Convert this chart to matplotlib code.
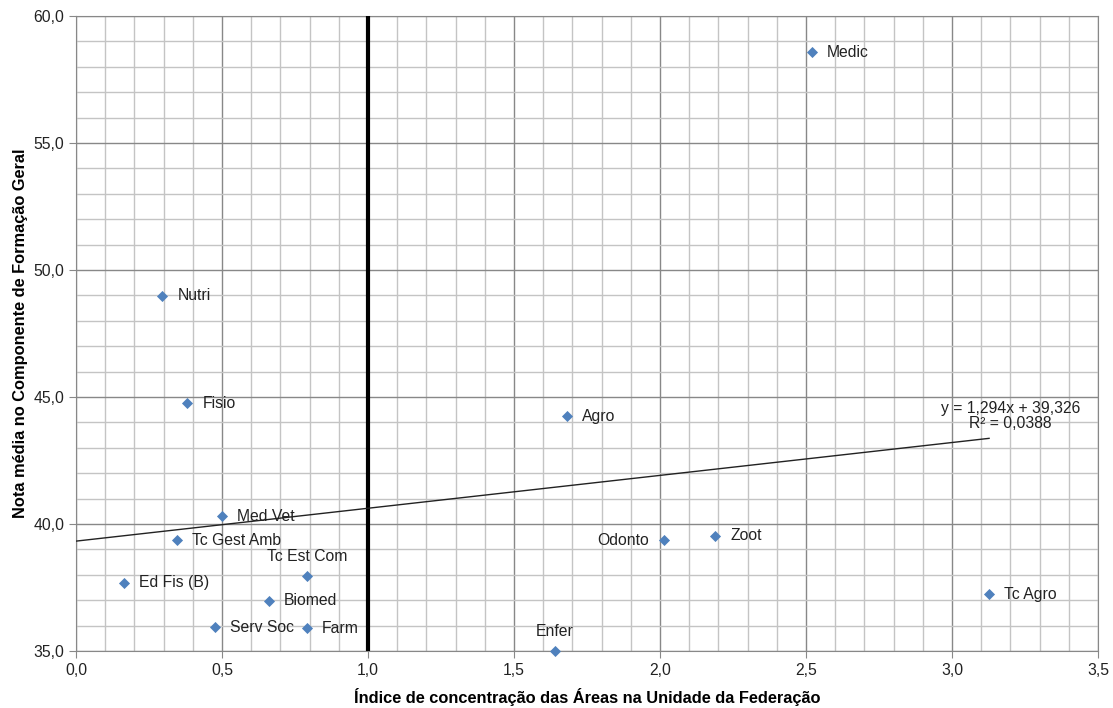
import matplotlib
matplotlib.use("Agg")
import matplotlib.pyplot as plt
import numpy as np
from matplotlib.ticker import MultipleLocator, FuncFormatter

plt.rcParams['font.family'] = ['Liberation Sans', 'DejaVu Sans']

labels = ["Medic", "Nutri", "Fisio", "Agro", "Med Vet", "Tc Gest Amb", "Odonto", "Zoot",
          "Tc Est Com", "Ed Fis (B)", "Biomed", "Serv Soc", "Farm", "Enfer", "Tc Agro"]
x_vals = [2.52, 0.295, 0.38, 1.68, 0.50, 0.346, 2.014, 2.19,
          0.79, 0.164, 0.66, 0.476, 0.79, 1.64, 3.127]
y_vals = [58.58, 48.98, 44.76, 44.25, 40.31, 39.37, 39.37, 39.53,
          37.95, 37.68, 36.97, 35.94, 35.9, 35.0, 37.24]
# label placement: 'r' right, 'l' left, 't' top
placement = ["r", "r", "r", "r", "r", "r", "l", "r", "t", "r", "r", "r", "r", "t", "r"]

slope, intercept = 1.294, 39.326

FS = 11.3

fig = plt.figure(figsize=(11.13, 7.08), dpi=100)
ax = fig.add_axes([0.0683, 0.0805, 0.9182, 0.8969])

ax.set_xlim(0, 3.5)
ax.set_ylim(35, 60)
ax.xaxis.set_major_locator(MultipleLocator(0.5))
ax.xaxis.set_minor_locator(MultipleLocator(0.1))
ax.yaxis.set_major_locator(MultipleLocator(5))
ax.yaxis.set_minor_locator(MultipleLocator(1))
fmt = FuncFormatter(lambda v, p: f"{v:.1f}".replace(".", ","))
ax.xaxis.set_major_formatter(fmt)
ax.yaxis.set_major_formatter(fmt)
ax.grid(which='minor', color='#c4c4c4', linewidth=1.0)
ax.grid(which='major', color='#888888', linewidth=1.0)
ax.set_axisbelow(True)
ax.tick_params(which='minor', length=0)
ax.tick_params(which='major', length=5, color='#888888', labelsize=FS, labelcolor='#222222')
for s in ax.spines.values():
    s.set_color('#888888')

ax.axvline(1.0, color='black', linewidth=3, zorder=3)

xt = np.array([0.0, max(x_vals)])
ax.plot(xt, slope * xt + intercept, color='#222222', linewidth=1.0, zorder=3)

ax.scatter(x_vals, y_vals, marker='D', s=32, color='#4F81BD', zorder=4, linewidths=0,
           clip_on=False)

for lab, x, y, p in zip(labels, x_vals, y_vals, placement):
    if p == 'r':
        ax.annotate(lab, (x, y), xytext=(11, 0), textcoords='offset points',
                    ha='left', va='center', fontsize=FS, color='#222222')
    elif p == 'l':
        ax.annotate(lab, (x, y), xytext=(-11, 0), textcoords='offset points',
                    ha='right', va='center', fontsize=FS, color='#222222')
    else:
        ax.annotate(lab, (x, y), xytext=(0, 9), textcoords='offset points',
                    ha='center', va='bottom', fontsize=FS, color='#222222')

ax.text(3.2, 43.65, "y = 1,294x + 39,326\nR² = 0,0388", ha='center', va='bottom',
        fontsize=FS, color='#222222', linespacing=1.0)

ax.set_xlabel("Índice de concentração das Áreas na Unidade da Federação",
              fontsize=11.8, fontweight='bold', labelpad=7)
ax.set_ylabel("Nota média no Componente de Formação Geral",
              fontsize=11.8, fontweight='bold', labelpad=4)

fig.savefig("out.png", dpi=100)
